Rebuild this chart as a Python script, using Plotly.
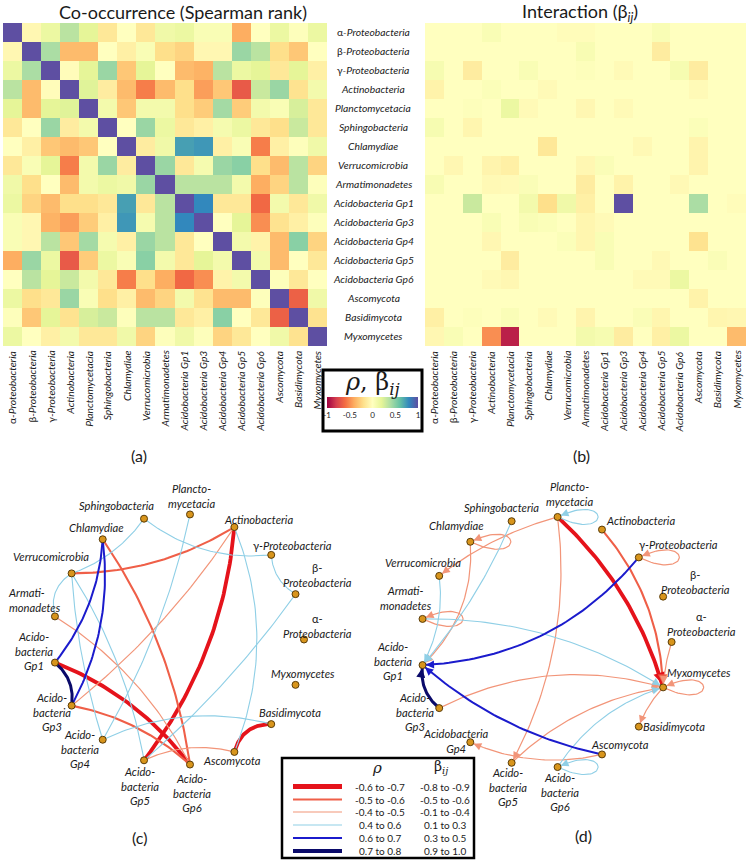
import numpy as np
import plotly.graph_objects as go

W, H = 750, 862

# ---------------- data ----------------
TAXA = ["α-Proteobacteria", "β-Proteobacteria", "γ-Proteobacteria", "Actinobacteria",
        "Planctomycetacia", "Sphingobacteria", "Chlamydiae", "Verrucomicrobia",
        "Armatimonadetes", "Acidobacteria Gp1", "Acidobacteria Gp3", "Acidobacteria Gp4",
        "Acidobacteria Gp5", "Acidobacteria Gp6", "Ascomycota", "Basidimycota", "Myxomycetes"]

# Spearman rank correlation (rows/cols in TAXA order)
RHO = [
    [1, -0.05, 0.15, 0.35, 0.2, -0.15, 0.0, -0.15, 0.12, 0.15, 0.05, 0.05, -0.4, 0.0, 0.15, 0.02, 0.15],
    [-0.05, 1, 0.4, -0.35, -0.35, 0.0, -0.1, 0.05, -0.2, -0.25, -0.05, -0.05, 0.45, 0.35, -0.2, -0.3, 0.0],
    [0.15, 0.4, 1, -0.02, 0.2, 0.45, -0.3, 0.2, 0.0, -0.35, -0.38, 0.35, 0.15, 0.2, -0.15, 0.2, -0.1],
    [0.35, -0.35, -0.02, 1, 0.22, -0.12, -0.35, -0.55, -0.35, -0.2, -0.45, -0.3, -0.68, 0.3, 0.45, -0.18, 0.1],
    [0.2, -0.35, 0.2, 0.22, 1, 0.1, -0.3, 0.1, 0.1, -0.2, -0.28, 0.42, -0.28, 0.1, 0.05, 0.25, -0.15],
    [-0.15, 0.0, 0.45, -0.12, 0.1, 1, 0.0, 0.45, 0.15, -0.15, -0.1, 0.08, 0.15, -0.15, -0.2, 0.3, -0.15],
    [0.0, -0.1, -0.3, -0.35, -0.3, 0.0, 1, -0.12, 0.12, 0.72, 0.75, -0.1, 0.05, -0.55, -0.1, 0.02, 0.12],
    [-0.15, 0.05, 0.2, -0.55, 0.1, 0.45, -0.12, 1, 0.45, -0.15, 0.08, 0.45, 0.5, -0.2, -0.35, 0.35, -0.25],
    [0.12, -0.2, 0.0, -0.35, 0.1, 0.15, 0.12, 0.45, 1, 0.35, 0.35, 0.35, 0.1, -0.4, -0.25, 0.35, 0.02],
    [0.15, -0.25, -0.35, -0.2, -0.2, -0.15, 0.72, -0.15, 0.35, 1, 0.8, -0.15, -0.15, -0.62, 0.1, -0.15, 0.12],
    [0.05, -0.05, -0.38, -0.45, -0.28, -0.1, 0.75, 0.08, 0.35, 0.8, 1, 0.0, 0.2, -0.5, -0.18, -0.1, 0.02],
    [0.05, -0.05, 0.35, -0.3, 0.42, 0.08, -0.1, 0.45, 0.35, -0.15, 0.0, 1, 0.1, -0.08, -0.35, 0.5, -0.25],
    [-0.4, 0.45, 0.15, -0.68, -0.28, 0.15, 0.05, 0.5, 0.1, -0.15, 0.2, 0.1, 1, 0.1, -0.35, 0.0, -0.15],
    [0.0, 0.35, 0.2, 0.3, 0.1, -0.15, -0.55, -0.2, -0.4, -0.62, -0.5, -0.08, 0.1, 1, 0.02, -0.15, 0.0],
    [0.15, -0.2, -0.15, 0.45, 0.05, -0.2, -0.1, -0.35, -0.25, 0.1, -0.18, -0.35, -0.35, 0.02, 1, -0.65, 0.12],
    [0.02, -0.3, 0.2, -0.18, 0.25, 0.3, 0.02, 0.35, 0.35, -0.15, -0.1, 0.5, 0.0, -0.15, -0.65, 1, -0.18],
    [0.15, 0.0, -0.1, 0.1, -0.15, -0.15, 0.12, -0.25, 0.02, 0.12, 0.02, -0.25, -0.15, 0.0, 0.12, -0.18, 1],
]

# Interaction coefficients beta_ij (row = target i, column = source j)
BETA = [
    [0, 0, 0, 0.05, 0, 0, 0, -0.02, -0.02, 0, 0, 0, 0.05, 0, 0, 0, 0],
    [0, 0, 0, 0, 0, 0, 0, 0, 0.06, 0, 0, 0, -0.12, 0, 0, 0, 0],
    [0.07, 0, -0.12, 0, 0, 0.05, 0, 0, 0.02, 0, -0.03, 0, 0, 0.07, -0.12, 0, 0],
    [-0.08, 0, 0, 0.03, 0, 0, -0.03, 0, 0, 0, 0, 0, 0, 0, -0.03, 0, 0],
    [0, 0, 0.02, 0, 0.15, -0.03, 0, 0, -0.05, 0, -0.03, 0, 0, 0, 0, 0, 0],
    [0.07, 0, -0.06, 0, 0, 0, 0, 0, 0, 0, 0, 0, 0, 0, 0.03, 0, 0],
    [0, 0, 0, 0, 0, 0, -0.15, 0, 0, 0, 0, -0.04, 0, 0, -0.07, 0, 0],
    [0, -0.05, 0, -0.07, -0.1, 0, 0, 0, -0.05, 0.04, 0, 0, 0, 0, -0.07, 0, 0],
    [0.06, 0, 0, -0.04, -0.03, 0.04, 0, 0, -0.12, 0, -0.08, 0, 0, -0.04, 0, 0, 0],
    [0, 0, 0.3, 0, 0, 0.1, -0.2, 0.12, -0.1, 0, 1.0, 0, 0, 0, 0.4, 0, -0.02],
    [0, 0, 0, 0.05, 0, 0.05, 0.03, 0, -0.06, -0.03, 0, 0, 0, 0, 0, 0, 0],
    [0, 0, 0, -0.05, 0, 0, 0, 0.03, -0.06, 0.05, 0, 0, 0, 0, -0.18, 0, 0],
    [0, 0, 0, 0, -0.12, 0, 0, 0, 0, 0.05, 0, 0, -0.04, 0, 0, 0.04, 0],
    [0, 0, 0, -0.03, -0.05, 0, 0, 0, 0, 0, 0, -0.03, -0.03, 0.15, 0, 0, 0],
    [0, 0, 0, 0, 0, 0, 0, 0, 0, 0, 0, 0, 0, 0, -0.08, 0, 0],
    [-0.1, 0, 0.02, 0, 0.04, 0, -0.03, 0, -0.07, 0, 0, 0.04, -0.06, 0, 0, -0.06, -0.05],
    [-0.05, 0.05, 0, -0.5, -0.9, 0, 0, 0, 0.1, 0.07, -0.12, 0, -0.1, 0.15, 0, 0, -0.35],
]

# strength classes (legend rows)
CLASSES = ["n3", "n2", "n1", "p1", "p2", "p3"]
RHO_BINS = ["-0.6 to -0.7", "-0.5 to -0.6", "-0.4 to -0.5", "0.4 to 0.6", "0.6 to 0.7", "0.7 to 0.8"]
BETA_BINS = ["-0.8 to -0.9", "-0.5 to -0.6", "-0.1 to -0.4", "0.1 to 0.3", "0.3 to 0.5", "0.9 to 1.0"]

# co-occurrence network edges (i, j, class)
CO_EDGES = [(3, 14, "p1"), (11, 15, "p1"), (1, 12, "p1"), (2, 1, "p1"), (5, 2, "p1"), (5, 7, "p1"),
            (7, 8, "p1"), (7, 11, "p1"), (7, 12, "p1"), (4, 11, "p1"),
            (8, 13, "n1"), (3, 10, "n1"), (12, 14, "n1"),
            (7, 3, "n2"), (6, 13, "n2"), (10, 13, "n2"),
            (6, 9, "p2"), (6, 10, "p2"),
            (9, 13, "n3"), (3, 12, "n3"), (14, 15, "n3"),
            (9, 10, "p3")]

# interaction network edges (source j -> target i, class)
INT_EDGES = [(8, 16, "p1"), (5, 9, "p1"), (7, 9, "p1"), (13, 16, "p1"),
             (0, 16, "n1"), (16, 15, "n1"), (6, 9, "n1"), (4, 7, "n1"), (4, 12, "n1"),
             (10, 16, "n1"), (12, 16, "n1"), (14, 11, "n1"),
             (3, 16, "n2"),
             (2, 9, "p2"), (14, 9, "p2"),
             (4, 16, "n3"),
             (10, 9, "p3")]
INT_LOOPS = [(4, "p1"), (13, "p1"), (6, "n1"), (2, "n1"), (8, "n1"), (16, "n1")]

# ---------------- styles / layout ----------------
CO_BEND = {(3, 14): -0.1, (11, 15): -0.09, (1, 12): -0.03, (2, 1): 0.13, (5, 2): 0.10, (5, 7): -0.08,
           (7, 8): 0.18, (7, 11): 0.03, (7, 12): -0.05, (4, 11): -0.04, (8, 13): -0.07,
           (3, 10): -0.04, (12, 14): -0.09, (7, 3): 0.07, (6, 13): -0.058, (10, 13): -0.07,
           (6, 9): -0.08, (6, 10): -0.08, (9, 13): -0.07, (3, 12): -0.073, (14, 15): -0.19,
           (9, 10): -0.14}
INT_BEND = {(8, 16): -0.075, (5, 9): -0.04, (7, 9): -0.08, (13, 16): -0.09, (0, 16): 0.03,
            (16, 15): 0.05, (6, 9): -0.117, (4, 7): 0.05, (4, 12): -0.08, (10, 16): -0.098,
            (12, 16): -0.078, (14, 11): -0.083, (3, 16): -0.087, (2, 9): -0.11, (14, 9): -0.065,
            (4, 16): -0.07, (10, 9): -0.14}

STYLE = {"n3": ("#e5131b", 3.8), "n2": ("#ef5f48", 2.1), "n1": ("#f29579", 1.2),
         "p1": ("#8fcfe6", 1.1), "p2": ("#1b1bcc", 2.0), "p3": ("#0a0a6a", 3.0)}
HEAD = {"n3": 0.6, "n2": 0.9, "n1": 1.3, "p1": 1.4, "p2": 0.8, "p3": 0.6}

FONT = "Lato"
TXT = "#1a1a1a"
NET_FS = 11.2
HM_FS = 10.3

CENTER_C = (178.4, 639.5)
CENTER_D = (546.0, 642.0)
RADIUS = 125.6

LABEL_C = {0: ("α-<br><i>Proteobacteria</i>", 13, -13.5), 1: ("β-<br><i>Proteobacteria</i>", 22, -19.5),
           2: ("γ<i>-Proteobacteria</i>", 21, -9), 3: ("<i>Actinobacteria</i>", 24, -8),
           4: ("<i>Plancto-<br>mycetacia</i>", 2, -18), 5: ("<i>Sphingobacteria</i>", -28, -13),
           6: ("<i>Chlamydiae</i>", -6, -12), 7: ("<i>Verrucomicrobia</i>", -21, -17),
           8: ("<i>Armati-<br>monadetes</i>", -49, -16, "left"),
           9: ("<i>Acido-<br>bacteria<br>Gp1</i>", -21, -12),
           10: ("<i>Acido-<br>bacteria<br>Gp3</i>", -20, 6), 11: ("<i>Acido-<br>bacteria<br>Gp4</i>", -23, 9.5),
           12: ("<i>Acido-<br>bacteria<br>Gp5</i>", -4, 25.5), 13: ("<i>Acido-<br>bacteria<br>Gp6</i>", 2, 28.5),
           14: ("<i>Ascomycota</i>", -2, 9), 15: ("<i>Basidimycota</i>", 19, -12),
           16: ("<i>Myxomycetes</i>", 7, -11)}
LABEL_D = {0: ("α-<br><i>Proteobacteria</i>", 30, -18), 1: ("β-<br><i>Proteobacteria</i>", 32, -15),
           2: ("γ<i>-Proteobacteria</i>", 40, -13), 3: ("<i>Actinobacteria</i>", 39, -9),
           4: ("<i>Plancto-<br>mycetacia</i>", 12, -22.5), 5: ("<i>Sphingobacteria</i>", -10, -14),
           6: ("<i>Chlamydiae</i>", -14, -16), 7: ("<i>Verrucomicrobia</i>", -16, -13),
           8: ("<i>Armati-<br>monadetes</i>", -17, -20.5), 9: ("<i>Acido-<br>bacteria<br>Gp1</i>", -30, -4),
           10: ("<i>Acido-<br>bacteria<br>Gp3</i>", -24, 4), 11: ("<i>Acidobacteria<br>Gp4</i>", -14, -1),
           12: ("<i>Acido-<br>bacteria<br>Gp5</i>", -4, 24), 13: ("<i>Acido-<br>bacteria<br>Gp6</i>", 2, 25),
           14: ("<i>Ascomycota</i>", 18, -10), 15: ("<i>Basidimycota</i>", 35, 0),
           16: ("<i>Myxomycetes</i>", 36, -15)}


def ital(name):
    if name[0] in "αβγ":
        return name[0] + "<i>" + name[1:] + "</i>"
    return "<i>" + name + "</i>"


def circle_pos(center, r, n):
    ang = np.arange(n) * 2 * np.pi / n
    return np.column_stack([center[0] + r * np.cos(ang), center[1] - r * np.sin(ang)])


def qbez(p0, p2, bend, n=50):
    p0 = np.asarray(p0, float)
    p2 = np.asarray(p2, float)
    mid = (p0 + p2) / 2
    d = p2 - p0
    c = mid + 2 * bend * np.array([-d[1], d[0]])
    t = np.linspace(0, 1, n)[:, None]
    pts = (1 - t) ** 2 * p0 + 2 * (1 - t) * t * c + t ** 2 * p2
    return pts, c


def loop(p, a=54, b=26, n=50):
    p = np.asarray(p, float)
    c1 = p + np.array([a, b])
    c2 = p + np.array([a, -b])
    t = np.linspace(0, 1, n)[:, None]
    pts = (1 - t) ** 3 * p + 3 * (1 - t) ** 2 * t * c1 + 3 * (1 - t) * t ** 2 * c2 + t ** 3 * p
    return pts, c2


fig = go.Figure()

# ---------------- heatmaps ----------------
idx = list(range(len(TAXA)))
fig.add_trace(go.Heatmap(
    z=RHO, x=idx, y=idx, colorscale="Spectral", zmin=-1, zmax=1, xaxis="x", yaxis="y",
    hoverinfo="skip", xgap=0, ygap=0,
    colorbar=dict(orientation="h", x=372.5 / W, xanchor="center", y=1 - 397 / H, yanchor="top",
                  len=91, lenmode="pixels", thickness=11, thicknessmode="pixels",
                  outlinewidth=0, xpad=0, ypad=0, ticks="", ticklen=0,
                  tickvals=[-1, -0.5, 0, 0.5, 1], ticktext=["-1", "-0.5", "0", "0.5", "1"],
                  tickfont=dict(size=8, family=FONT, color=TXT))))
fig.add_trace(go.Heatmap(
    z=BETA, x=idx, y=idx, colorscale="Spectral", zmin=-1, zmax=1, xaxis="x2", yaxis="y2",
    hoverinfo="skip", showscale=False))

# ---------------- networks ----------------
pos_c = circle_pos(CENTER_C, RADIUS, len(TAXA))
pos_d = circle_pos(CENTER_D, RADIUS, len(TAXA))

annotations = []


def arrow(end, back, cls):
    col, w = STYLE[cls]
    return dict(x=end[0], y=end[1], ax=back[0], ay=back[1], xref="x3", yref="y3",
                axref="x3", ayref="y3", text="", showarrow=True, arrowhead=2,
                arrowsize=HEAD[cls], arrowwidth=w, arrowcolor=col, standoff=3.5)


for cls in CLASSES:
    col, w = STYLE[cls]
    for (i, j, c) in CO_EDGES:
        if c != cls:
            continue
        pts, _ = qbez(pos_c[i], pos_c[j], CO_BEND[(i, j)])
        fig.add_trace(go.Scatter(x=pts[:, 0], y=pts[:, 1], mode="lines", xaxis="x3", yaxis="y3",
                                 line=dict(color=col, width=w), hoverinfo="skip"))

for cls in CLASSES:
    col, w = STYLE[cls]
    for (s, t, c) in INT_EDGES:
        if c != cls:
            continue
        pts, ctrl = qbez(pos_d[s], pos_d[t], INT_BEND[(s, t)])
        fig.add_trace(go.Scatter(x=pts[:, 0], y=pts[:, 1], mode="lines", xaxis="x3", yaxis="y3",
                                 line=dict(color=col, width=w), hoverinfo="skip"))
        end = pts[-1]
        v = end - ctrl
        v = v / np.linalg.norm(v)
        annotations.append(arrow(end, end - 12 * v, cls))
    for (k, c) in INT_LOOPS:
        if c != cls:
            continue
        pts, c2 = loop(pos_d[k])
        fig.add_trace(go.Scatter(x=pts[:, 0], y=pts[:, 1], mode="lines", xaxis="x3", yaxis="y3",
                                 line=dict(color=col, width=w), hoverinfo="skip"))
        end = pts[-1]
        v = end - pts[-4]
        v = v / np.linalg.norm(v)
        annotations.append(arrow(end, end - 12 * v, cls))

for pos in (pos_c, pos_d):
    fig.add_trace(go.Scatter(x=pos[:, 0], y=pos[:, 1], mode="markers", xaxis="x3", yaxis="y3",
                             marker=dict(size=7, color="#d8951c", line=dict(color="#5a3c08", width=1)),
                             hoverinfo="skip"))

# node labels
for pos, labels in ((pos_c, LABEL_C), (pos_d, LABEL_D)):
    for k, spec in labels.items():
        txt, dx, dy = spec[:3]
        anchor = spec[3] if len(spec) > 3 else "center"
        annotations.append(dict(x=pos[k, 0] + dx, y=pos[k, 1] + dy, xref="x3", yref="y3", text=txt,
                                showarrow=False, xanchor=anchor, yanchor="middle", align=anchor,
                                font=dict(family=FONT, size=NET_FS, color=TXT)))

# heatmap row labels (middle) and rotated column labels
for k, name in enumerate(TAXA):
    annotations.append(dict(x=373 / W, y=k, xref="paper", yref="y", text=ital(name), showarrow=False,
                            xanchor="center", yanchor="middle", font=dict(family=FONT, size=HM_FS, color=TXT)))
    for xr in ("x", "x2"):
        annotations.append(dict(x=k, y=1 - 349 / H, xref=xr, yref="paper", text=ital(name),
                                showarrow=False, textangle=-90, xanchor="center", yanchor="top",
                                font=dict(family=FONT, size=HM_FS, color=TXT)))

# titles and panel letters
annotations += [
    dict(x=183, y=12, xref="x3", yref="y3", text="Co-occurrence (Spearman rank)", showarrow=False,
         font=dict(family=FONT, size=18, color=TXT)),
    dict(x=580, y=12, xref="x3", yref="y3", text="Interaction (β<sub><i>ij</i></sub>)", showarrow=False,
         font=dict(family=FONT, size=18, color=TXT)),
    dict(x=139, y=455, xref="x3", yref="y3", text="(a)", showarrow=False, font=dict(family=FONT, size=16, color=TXT)),
    dict(x=581, y=455, xref="x3", yref="y3", text="(b)", showarrow=False, font=dict(family=FONT, size=16, color=TXT)),
    dict(x=139, y=837, xref="x3", yref="y3", text="(c)", showarrow=False, font=dict(family=FONT, size=16, color=TXT)),
    dict(x=583, y=835, xref="x3", yref="y3", text="(d)", showarrow=False, font=dict(family=FONT, size=16, color=TXT)),
    dict(x=372, y=383, xref="x3", yref="y3", text="<i>ρ</i>, β<sub><i>ij</i></sub>", showarrow=False,
         font=dict(family="DejaVu Serif", size=24, color=TXT)),
]

shapes = [
    dict(type="rect", xref="x3", yref="y3", x0=323, x1=422, y0=370, y1=431,
         line=dict(color="black", width=3), fillcolor="rgba(0,0,0,0)", layer="above"),
    dict(type="rect", xref="x3", yref="y3", x0=282, x1=474, y0=758, y1=858,
         line=dict(color="black", width=2.5), fillcolor="white", layer="above"),
]

# legend
LEG_Y = [786.5, 799.5, 812, 825, 838, 851]
annotations.append(dict(x=377, y=768, xref="x3", yref="y3", text="<i>ρ</i>", showarrow=False,
                        font=dict(family="DejaVu Serif", size=15, color=TXT)))
annotations.append(dict(x=441, y=767, xref="x3", yref="y3", text="β<sub><i>ij</i></sub>", showarrow=False,
                        font=dict(family="DejaVu Serif", size=14, color=TXT)))
for k, cls in enumerate(CLASSES):
    col, w = STYLE[cls]
    shapes.append(dict(type="line", xref="x3", yref="y3", x0=293, x1=342, y0=LEG_Y[k], y1=LEG_Y[k],
                       line=dict(color=col, width=w + (1 if cls in ("n3", "p3") else 0)), layer="above"))
    annotations.append(dict(x=380, y=LEG_Y[k], xref="x3", yref="y3", text=RHO_BINS[k], showarrow=False,
                            font=dict(family=FONT, size=10, color=TXT)))
    annotations.append(dict(x=445, y=LEG_Y[k], xref="x3", yref="y3", text=BETA_BINS[k], showarrow=False,
                            font=dict(family=FONT, size=10, color=TXT)))

hm_y = [1 - 346 / H, 1 - 23 / H]
xcommon = dict(range=[-0.5, 16.5], showticklabels=False, showgrid=False, zeroline=False,
               ticks="", showline=False, fixedrange=True, automargin=False)
ycommon = dict(range=[16.5, -0.5], showticklabels=False, showgrid=False, zeroline=False, ticks="",
               fixedrange=True, domain=hm_y, automargin=False)

fig.update_layout(
    width=W, height=H, margin=dict(l=0, r=0, t=0, b=0, autoexpand=False),
    paper_bgcolor="white", plot_bgcolor="rgba(0,0,0,0)", showlegend=False,
    font=dict(family=FONT, color=TXT),
    xaxis=dict(domain=[3 / W, 327 / W], anchor="y", **xcommon),
    yaxis=dict(anchor="x", **ycommon),
    xaxis2=dict(domain=[425 / W, 746 / W], anchor="y2", **xcommon),
    yaxis2=dict(anchor="x2", **ycommon),
    xaxis3=dict(domain=[0, 1], range=[0, W], visible=False, anchor="y3", fixedrange=True, automargin=False),
    yaxis3=dict(domain=[0, 1], range=[H, 0], visible=False, anchor="x3", fixedrange=True, automargin=False),
    annotations=annotations, shapes=shapes,
)

fig.write_html("out.html", config={"displayModeBar": False},
               post_script="document.body.style.margin='0';document.body.style.overflow='hidden';")
